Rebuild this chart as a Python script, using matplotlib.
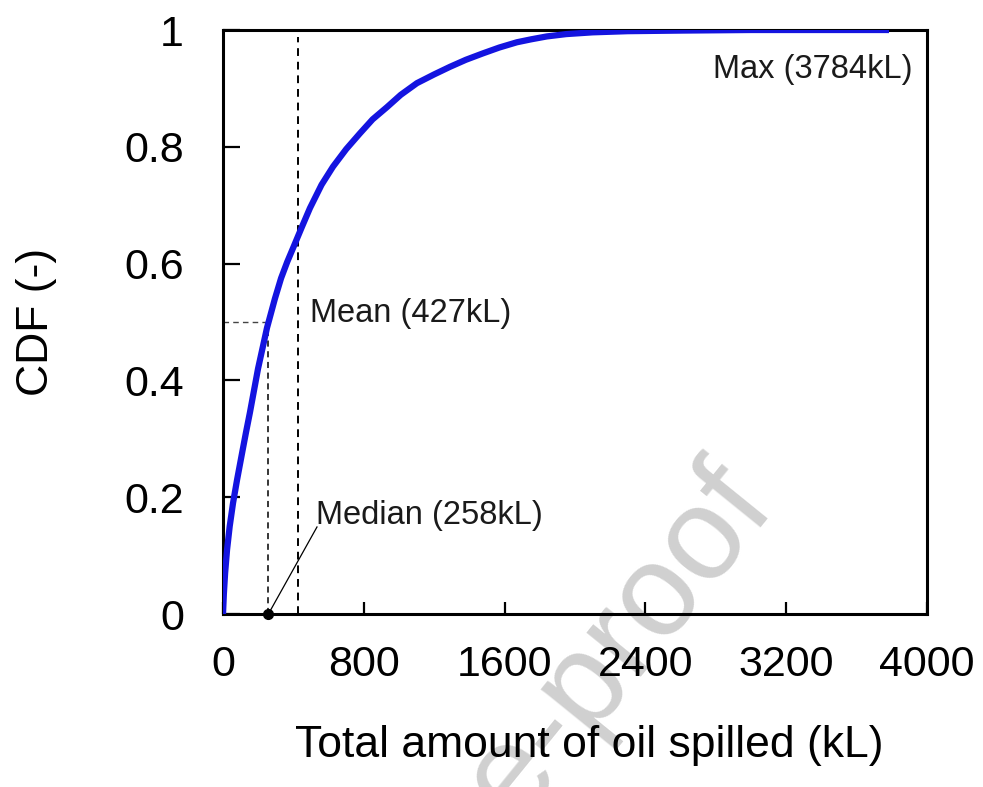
import numpy as np
import matplotlib
matplotlib.use('Agg')
import matplotlib.pyplot as plt

plt.rcParams['font.family'] = ['Liberation Sans', 'DejaVu Sans']

# CDF of total spilled oil
oil_kl = [0, 5, 12, 23, 38, 57, 80, 108, 130, 153, 199, 250, 295, 330, 365, 400,
          450, 494, 560, 625, 700, 778, 850, 932, 1010, 1102, 1200, 1290, 1380,
          1477, 1570, 1670, 1750, 1840, 1950, 2100, 2300, 2600, 3000, 3400, 3784]
cdf = [0, 0.035, 0.07, 0.11, 0.15, 0.19, 0.23, 0.275, 0.31, 0.345, 0.42, 0.49,
       0.54, 0.575, 0.603, 0.628, 0.664, 0.695, 0.735, 0.766, 0.796, 0.823, 0.847,
       0.868, 0.889, 0.909, 0.924, 0.937, 0.949, 0.96, 0.97, 0.979, 0.984, 0.989,
       0.993, 0.996, 0.998, 0.999, 1.0, 1.0, 1.0]

median_kl = 258
mean_kl = 427
max_kl = 3784

x_ticks = [0, 800, 1600, 2400, 3200, 4000]
y_ticks = [0, 0.2, 0.4, 0.6, 0.8, 1]
y_ticklabels = ['0', '0.2', '0.4', '0.6', '0.8', '1']

fig = plt.figure(figsize=(9.83, 7.87), dpi=100)
ax = fig.add_axes([223/983, 1-614/787, 704/983, 584/787])
ax.patch.set_alpha(0)

# watermark
fig.text(778/983, 1-508/787, 'Journal Pre-proof', fontsize=94, color='#d0d0d0',
         rotation=51, rotation_mode='anchor', ha='right', va='baseline', zorder=-1)

ax.plot(oil_kl, cdf, color='#1414e0', lw=4.5, solid_capstyle='butt',
        solid_joinstyle='round', zorder=3)

# mean / median guides
ax.plot([mean_kl, mean_kl], [0, 0.988], color='black', lw=1.4, ls=(0, (4, 3)), zorder=2)
ax.plot([median_kl, median_kl], [0, 0.5], color='black', lw=1.1, ls=(0, (4, 3)), zorder=2)
ax.plot([0, median_kl], [0.5, 0.5], color='#444444', lw=1.0, ls=(0, (4, 3)), zorder=2)

ax.plot([median_kl, 534], [0, 0.149], color='black', lw=0.9, zorder=4)
ax.plot([median_kl], [0], 'o', color='black', ms=7, zorder=5, clip_on=False)

ax.text(494, 0.515, 'Mean (427kL)', fontsize=23.5, va='center', ha='left', color='#1a1a1a')
ax.text(528, 0.168, 'Median (258kL)', fontsize=23.5, va='center', ha='left', color='#1a1a1a')
ax.text(3915, 0.932, 'Max (3784kL)', fontsize=23.5, va='center', ha='right', color='#1a1a1a')

ax.set_xlim(0, 4000)
ax.set_ylim(0, 1)
ax.set_xticks(x_ticks)
ax.set_yticks(y_ticks)
ax.set_yticklabels(y_ticklabels)
ax.tick_params(axis='x', direction='in', length=9, width=1.6, labelsize=31, pad=22)
ax.tick_params(axis='y', direction='in', length=12, width=1.6, labelsize=31, pad=28)
for s in ax.spines.values():
    s.set_linewidth(2.2)

ax.set_xlabel('Total amount of oil spilled (kL)', fontsize=32)
ax.set_ylabel('CDF (-)', fontsize=32)
ax.xaxis.set_label_coords(0.52, -0.19)
ax.yaxis.set_label_coords(-0.236, 0.5)

fig.savefig('out.png', dpi=100)
